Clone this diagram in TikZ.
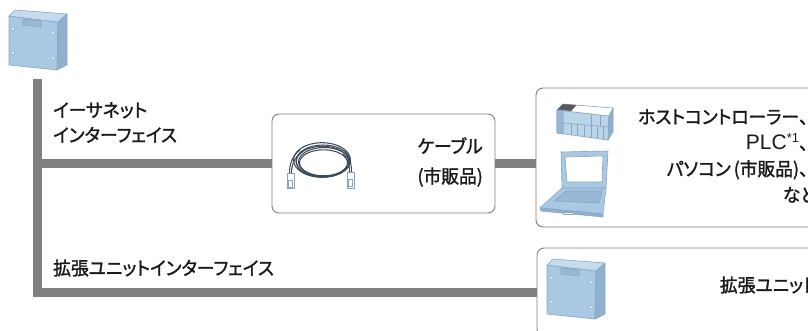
\documentclass[tikz,border=0pt]{standalone}
\usepackage{fontspec}
\setmainfont{Noto Sans CJK JP}[RawFeature=+palt, FakeBold=1.5, FakeStretch=0.96]
\newfontfamily\cjkfull{Noto Sans CJK JP}[FakeBold=1.5, FakeStretch=0.96]
\newfontfamily\latinsans{Liberation Sans}
\newcommand\fullcomma{{\cjkfull 、}}
\newcommand\plcmark{{\latinsans\fontsize{21}{26}\selectfont PLC\raisebox{7pt}{\fontsize{13}{15}\selectfont *1}}}
\definecolor{busgray}{HTML}{808080}
\definecolor{framegray}{HTML}{7F7F7F}
\definecolor{bodyblue}{HTML}{A9C9E3}
\definecolor{topblue}{HTML}{C6DCEE}
\definecolor{sideblue}{HTML}{8FB0CF}
\definecolor{edgeblue}{HTML}{87A5C2}
\definecolor{keyblue}{HTML}{97B7D4}
\definecolor{cablecol}{HTML}{3C4B5A}
\definecolor{inkcol}{HTML}{1A1A1A}
\tikzset{
  bus/.style={draw=busgray, line width=9pt, line join=miter, line cap=butt},
  panel/.style={draw=framegray, line width=0.9pt, rounded corners=7pt, fill=white},
  label/.style={text=inkcol, inner sep=0pt, font=\fontsize{18.5}{25}\selectfont},
  facet/.style={draw=edgeblue, line width=0.6pt, line join=round},
  hole/.style={fill=white, draw=edgeblue, line width=0.4pt},
  wire/.style={draw=cablecol, line width=1.05pt},
  plug/.style={fill=white, draw=edgeblue, line width=0.7pt},
  unitbox/.pic={
    \path[facet, fill=bodyblue] (0,6) -- (49,12) -- (48,60) -- (0,55) -- cycle;
    \path[facet, fill=topblue] (0,6) -- (6,0) -- (58,4) -- (49,12) -- cycle;
    \path[facet, fill=sideblue] (49,12) -- (58,4) -- (58,55) -- (48,60) -- cycle;
    \path[facet, fill=keyblue] (14,9) -- (32,11) -- (32,17) -- (14,15) -- cycle;
    \foreach \hx/\hy in {4/19, 44/23, 4/43, 44/48}
      \path[hole] (\hx,\hy) circle[radius=1.7pt];
  }
}
\begin{document}
\begin{tikzpicture}[x=1pt, y=-1pt]
\useasboundingbox (0,0) rectangle (808,331);
\clip (0,0) rectangle (808,331);

% frames
\node[panel, minimum width=223pt, minimum height=99pt] (cable) at (383.5,163.5) {};
\node[panel, minimum width=300pt, minimum height=139pt] (host) at (686,157.5) {};
\node[panel, minimum width=300pt, minimum height=88pt] (ext) at (687,292) {};

% bus lines
\coordinate (jt) at (37.5,79);
\draw[bus] (jt) |- (ext.west);
\draw[bus] (jt |- cable.west) -- (cable.west);
\draw[bus] (cable.east) -- (cable.east -| host.west);

% main unit and expansion unit
\pic at (9,10) {unitbox};
\pic at (547,259) {unitbox};

% interface labels
\node[label, anchor=west, align=left] (ethlbl) at (53,122.5) {イーサネット\\インターフェイス};
\node[label, anchor=west] (extlbl) at (53,268) {拡張ユニットインターフェイス};

% cable icon
\foreach \dx/\dy/\rx/\ry in {0/0/27/16, 1/1/25.5/14.5, -1/-1/28.5/17.3, 0.5/1.8/24/13, -0.5/0.6/26.2/15.4}
  \draw[wire] (323+\dx,161+\dy) ellipse[x radius=\rx pt, y radius=\ry pt];
\draw[wire] (289.5,173) .. controls (289.5,162) and (294,154) .. (300,150);
\draw[wire] (291.5,173) .. controls (291.5,163) and (296,156) .. (302,152);
\draw[wire] (351.5,172) .. controls (351.5,162) and (349,156) .. (345,152);
\draw[wire] (349.5,172) .. controls (349.5,163) and (347,157) .. (343,154);
\path[plug] (287,173) rectangle (294,188);
\path[plug] (288.5,180) rectangle (292.5,187);
\path[plug] (347,172) rectangle (354,188);
\path[plug] (348.5,179) rectangle (352.5,186);

\node[label, anchor=east, align=right, font=\fontsize{18.5}{30}\selectfont] (cablelbl) at (483,162) {ケーブル\\(市販品)};

% controller icon
\path[facet, fill=bodyblue!80!white] (557,110) -- (609,116) -- (608,140) -- (557,133) -- cycle;
\path[facet, fill=keyblue] (557,110) -- (563,110.7) -- (563,133.8) -- (557,133) -- cycle;
\path[facet, fill=white] (557,110) -- (563,104) -- (613,108) -- (609,116) -- cycle;
\path[fill=black!65, draw=black!65, line width=0.4pt] (558,109.5) -- (563,104.3) -- (576,105.3) -- (571,110.8) -- cycle;
\path[facet, fill=sideblue] (609,116) -- (613,108) -- (613,132) -- (608,140) -- cycle;
\draw[facet] (563,123) -- (608.5,127);
\foreach \vx in {571,577,584,591,597,603}
  \draw[facet] (\vx,{123+(\vx-563)*4/45.5}) -- (\vx,{133+(\vx-557)*7/51});
\foreach \vx in {591,600}
  \draw[facet] (\vx,{110+(\vx-557)*6/52}) -- (\vx,{123+(\vx-563)*4/45.5});

% laptop icon
\path[facet, fill=bodyblue] (562,188) -- (606,188) -- (603,214) -- (540,208) -- cycle;
\path[facet, fill=sideblue] (540,208) -- (603,214) -- (603,217) -- (541,211) -- cycle;
\path[facet, fill=keyblue] (566,191) -- (602,191) -- (599,203) -- (554,201) -- cycle;
\path[facet, fill=white] (563,212) rectangle (573,214);
\path[facet, fill=bodyblue] (561,152) -- (608,151) -- (606,188) -- (562,188) -- cycle;
\path[facet, fill=white] (565,157) -- (603,156) -- (602,182) -- (567,182) -- cycle;

\node[label, anchor=east, align=right, font=\fontsize{18.5}{26}\selectfont] (hostlbl) at (817,156)
  {ホストコントローラー\fullcomma\\\plcmark\fullcomma\\パソコン\hspace{3pt}(市販品)\fullcomma\\など};

\node[label, anchor=east] (extname) at (817,285) {拡張ユニット};
\end{tikzpicture}
\end{document}
